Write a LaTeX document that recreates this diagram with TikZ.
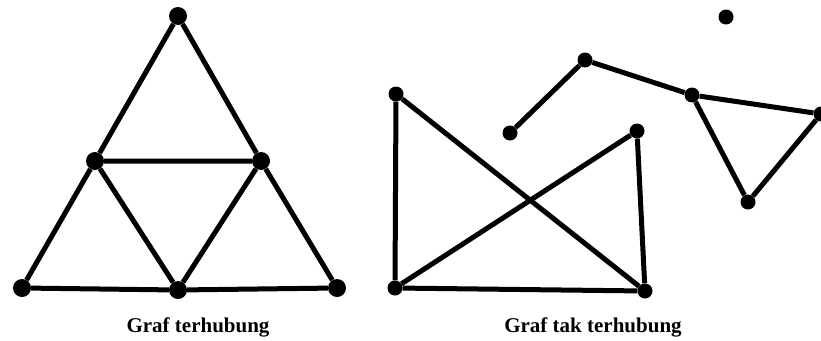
\documentclass[tikz,border=0pt]{standalone}
\usepackage{fontspec}
\setmainfont{Liberation Serif}
\begin{document}
\begin{tikzpicture}[x=1pt,y=-1pt,
  edge/.style={line width=5pt},
  big/.style={circle,fill=black,inner sep=0pt,minimum size=18pt},
  small/.style={circle,fill=black,inner sep=0pt,minimum size=15pt},
  lbl/.style={font=\bfseries\fontsize{21}{24}\selectfont}]
\useasboundingbox (0,0) rectangle (821,340);
% left graph
\node[big] (t) at (178,16) {};
\node[big] (ml) at (95,161) {};
\node[big] (mr) at (261,161) {};
\node[big] (bl) at (22,288) {};
\node[big] (bm) at (178,290) {};
\node[big] (br) at (337,288) {};
\draw[edge] (t) -- (ml) -- (bl) -- (bm) -- (br) -- (mr) -- (t);
\draw[edge] (ml) -- (mr) -- (bm) -- (ml);
% right graph
\node[small] (iso) at (726,17) {};
\node[small] (p1) at (510,133) {};
\node[small] (p2) at (585,60) {};
\node[small] (p3) at (692,95) {};
\node[small] (p4) at (821,114) {};
\node[small] (p5) at (748,202) {};
\node[small] (q1) at (396,94) {};
\node[small] (q2) at (637,131) {};
\node[small] (q3) at (395,288) {};
\node[small] (q4) at (645,291) {};
\draw[edge] (p1) -- (p2) -- (p3) -- (p4) -- (p5) -- (p3);
\draw[edge] (q1) -- (q3) -- (q4) -- (q1);
\draw[edge] (q3) -- (q2) -- (q4);
% labels
\node[lbl] (l1) at (198,327) {Graf terhubung};
\node[lbl] (l2) at (593,327) {Graf tak terhubung};
\end{tikzpicture}
\end{document}
